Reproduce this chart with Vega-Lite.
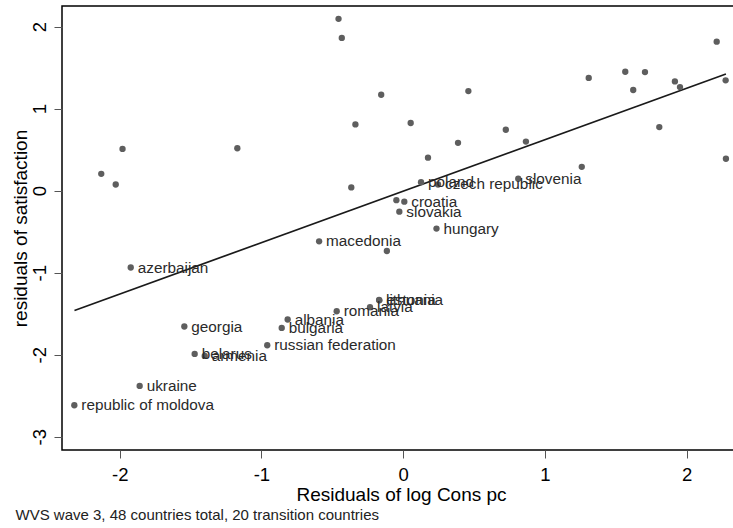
{
  "$schema": "https://vega.github.io/schema/vega-lite/v6.json",
  "width": 672,
  "height": 444,
  "autosize": {"type": "none"},
  "padding": {"left": 62, "top": 6, "right": 0, "bottom": 78},
  "config": {
    "font": "Liberation Sans",
    "view": {"stroke": "#000000", "strokeWidth": 1.5},
    "axis": {"grid": false, "domain": false}
  },
  "title": {
    "text": "WVS wave 3, 48 countries total, 20 transition countries",
    "orient": "bottom",
    "anchor": "start",
    "fontSize": 15,
    "fontWeight": "normal",
    "color": "#222222",
    "dx": 4,
    "offset": 4
  },
  "datasets": {
    "pts": [
      {"x": -2.320, "y": -2.616, "country": "republic of moldova"},
      {"x": -1.859, "y": -2.380, "country": "ukraine"},
      {"x": -1.544, "y": -1.656, "country": "georgia"},
      {"x": -1.471, "y": -1.990, "country": "belarus"},
      {"x": -1.400, "y": -2.014, "country": "armenia"},
      {"x": -0.959, "y": -1.884, "country": "russian federation"},
      {"x": -0.857, "y": -1.673, "country": "bulgaria"},
      {"x": -0.815, "y": -1.571, "country": "albania"},
      {"x": -0.469, "y": -1.470, "country": "romania"},
      {"x": -0.234, "y": -1.421, "country": "latvia"},
      {"x": -0.170, "y": -1.333, "country": "lithuania"},
      {"x": -0.168, "y": -1.337, "country": "estonia"},
      {"x": -1.922, "y": -0.937, "country": "azerbaijan"},
      {"x": -0.593, "y": -0.618, "country": "macedonia"},
      {"x": 0.008, "y": -0.135, "country": "croatia"},
      {"x": -0.027, "y": -0.257, "country": "slovakia"},
      {"x": 0.235, "y": -0.463, "country": "hungary"},
      {"x": 0.126, "y": 0.103, "country": "poland"},
      {"x": 0.246, "y": 0.075, "country": "czech republic"},
      {"x": 0.812, "y": 0.145, "country": "slovenia"},
      {"x": -2.130, "y": 0.205, "country": ""},
      {"x": -2.028, "y": 0.075, "country": ""},
      {"x": -1.980, "y": 0.508, "country": ""},
      {"x": -1.170, "y": 0.516, "country": ""},
      {"x": -0.456, "y": 2.094, "country": ""},
      {"x": -0.433, "y": 1.861, "country": ""},
      {"x": -0.155, "y": 1.168, "country": ""},
      {"x": -0.337, "y": 0.807, "country": ""},
      {"x": -0.366, "y": 0.039, "country": ""},
      {"x": 0.053, "y": 0.824, "country": ""},
      {"x": 0.175, "y": 0.402, "country": ""},
      {"x": 0.387, "y": 0.582, "country": ""},
      {"x": 0.460, "y": 1.213, "country": ""},
      {"x": 0.724, "y": 0.742, "country": ""},
      {"x": 0.866, "y": 0.598, "country": ""},
      {"x": 1.260, "y": 0.290, "country": ""},
      {"x": 1.309, "y": 1.373, "country": ""},
      {"x": 1.567, "y": 1.449, "country": ""},
      {"x": 1.623, "y": 1.226, "country": ""},
      {"x": 1.706, "y": 1.445, "country": ""},
      {"x": 1.807, "y": 0.774, "country": ""},
      {"x": 1.917, "y": 1.331, "country": ""},
      {"x": 1.953, "y": 1.262, "country": ""},
      {"x": 2.212, "y": 1.815, "country": ""},
      {"x": 2.275, "y": 1.344, "country": ""},
      {"x": 2.277, "y": 0.388, "country": ""},
      {"x": -0.115, "y": -0.736, "country": ""},
      {"x": -0.048, "y": -0.116, "country": ""}
    ],
    "fit": [
      {"x": -2.319, "y": -1.461},
      {"x": 2.277, "y": 1.421}
    ]
  },
  "layer": [
    {
      "data": {"name": "fit"},
      "mark": {"type": "line", "color": "#1a1a1a", "strokeWidth": 1.7},
      "encoding": {
        "x": {
          "field": "x", "type": "quantitative",
          "scale": {"domain": [-2.407, 2.334], "nice": false, "zero": false},
          "axis": {
            "values": [-2, -1, 0, 1, 2], "labelExpr": "'' + datum.value",
            "tickSize": 8, "tickColor": "#555555", "tickWidth": 1,
            "labelFontSize": 18.5, "labelColor": "#000000", "labelPadding": 7,
            "title": "Residuals of log Cons pc",
            "titleFontSize": 19, "titleFontWeight": "normal", "titleColor": "#000000",
            "titleX": 339, "titleY": 50.3, "titleBaseline": "alphabetic", "titleAlign": "center"
          }
        },
        "y": {
          "field": "y", "type": "quantitative",
          "scale": {"domain": [-3.161, 2.25], "nice": false, "zero": false},
          "axis": {
            "values": [-3, -2, -1, 0, 1, 2], "labelExpr": "'' + datum.value",
            "tickSize": 8, "tickColor": "#555555", "tickWidth": 1,
            "labelFontSize": 18.5, "labelColor": "#000000", "labelPadding": 5,
            "labelAngle": -90,
            "title": "residuals of satisfaction",
            "titleFontSize": 19, "titleFontWeight": "normal", "titleColor": "#000000",
            "titleAngle": -90,
            "titleX": -35.5, "titleY": 222, "titleBaseline": "alphabetic", "titleAlign": "center"
          }
        }
      }
    },
    {
      "data": {"name": "pts"},
      "mark": {"type": "circle", "size": 40, "color": "#5e5e5e", "opacity": 1},
      "encoding": {
        "x": {"field": "x", "type": "quantitative"},
        "y": {"field": "y", "type": "quantitative"}
      }
    },
    {
      "data": {"name": "pts"},
      "mark": {"type": "text", "align": "left", "baseline": "middle", "dx": 7, "fontSize": 15.3, "color": "#2a2a2a"},
      "encoding": {
        "x": {"field": "x", "type": "quantitative"},
        "y": {"field": "y", "type": "quantitative"},
        "text": {"field": "country"}
      }
    }
  ]
}
